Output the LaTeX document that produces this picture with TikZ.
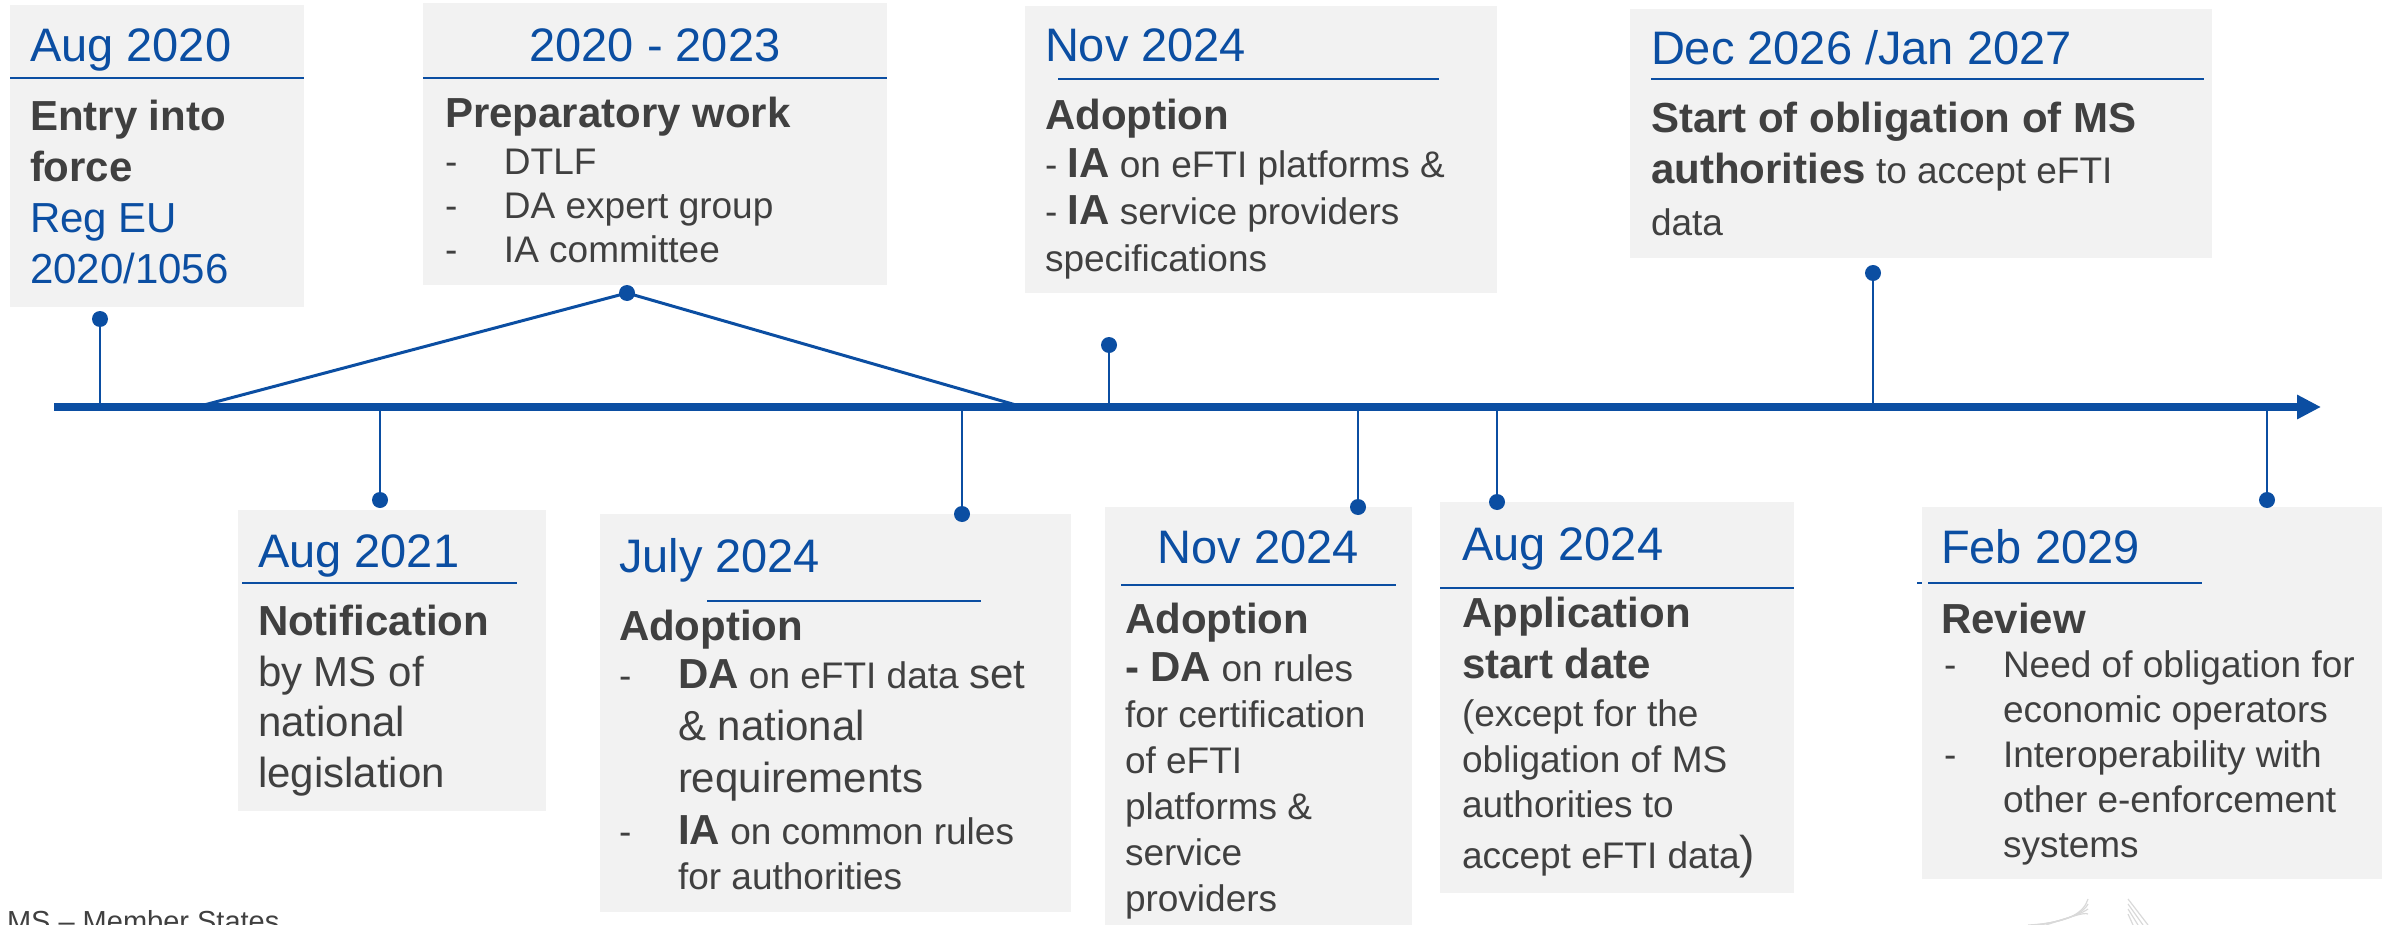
\documentclass[tikz,border=0pt]{standalone}
\usepackage{fontspec}
\setmainfont{Liberation Sans}
\usepackage{xcolor}
\usetikzlibrary{arrows.meta,positioning}

\definecolor{eublue}{HTML}{0B4EA2}
\definecolor{boxgrey}{HTML}{F2F2F2}
\definecolor{txtgrey}{HTML}{404040}

% list dash and indent for the items
\newcommand{\lidash}{\makebox[29.5pt][l]{-}}
\newcommand{\liskip}{\hspace*{29.5pt}}
% larger words and bold terms inside the body text
\newcommand{\lgtext}[1]{{\fontsize{21}{25}\selectfont #1}}
\newcommand{\bterm}[1]{{\fontsize{21}{25}\selectfont\bfseries #1}}

\begin{document}
\begin{tikzpicture}[
    x=0.5pt, y=-0.5pt,% one unit = one pixel of the slide
    every node/.style={inner sep=0pt, outer sep=0pt},
    box/.style={fill=boxgrey, anchor=north west},
    datelabel/.style={anchor=base west, text=eublue,
        font=\fontsize{23.5}{28}\selectfont},
    headline/.style={anchor=north west, align=left, text=txtgrey,
        font=\fontsize{21}{25.5}\selectfont\bfseries},
    bodytext/.style={anchor=north west, align=left, text=txtgrey,
        font=\fontsize{18.5}{22.5}\selectfont},
    rule/.style={eublue, line width=1.2pt},
    stem/.style={eublue, line width=1.2pt},
    pin/.style={circle, fill=eublue, minimum size=8pt},
    timeline/.style={eublue, line width=4pt, -{Triangle[length=12pt,width=11.5pt]}},
    logo/.style={gray!30, line width=0.6pt}
  ]
  \useasboundingbox (0,0) rectangle (2391,925);

  % boxes above the line
  \node[box, minimum width=147pt, minimum height=151pt] (aug20box) at (10,5) {};
  \node[box, minimum width=232pt, minimum height=141pt] (prepbox) at (423,3) {};
  \node[box, minimum width=236pt, minimum height=143.5pt] (nov24abox) at (1025,6) {};
  \node[box, minimum width=291pt, minimum height=124.5pt] (dec26box) at (1630,9) {};
  % boxes below the line
  \node[box, minimum width=154pt, minimum height=150.5pt] (aug21box) at (238,510) {};
  \node[box, minimum width=235.5pt, minimum height=199pt] (jul24box) at (600,514) {};
  \node[box, minimum width=153.5pt, minimum height=209pt] (nov24bbox) at (1105,507) {};
  \node[box, minimum width=177pt, minimum height=195.5pt] (aug24box) at (1440,502) {};
  \node[box, minimum width=230pt, minimum height=186pt] (feb29box) at (1922,507) {};

  % Aug 2020
  \node[datelabel] (aug20date) at (30,62) {Aug 2020};
  \draw[rule] (10,78) -- (304,78);
  \node[headline] (aug20text) at (30,100)
    {Entry into\\force\\\textcolor{eublue}{\mdseries Reg EU}\\\textcolor{eublue}{\mdseries 2020/1056}};

  % 2020 - 2023
  \node[datelabel, anchor=base] (prepdate) at (655,62) {2020 - 2023};
  \draw[rule] (423,78) -- (887,78);
  \node[headline, anchor=base west] (prephead) at (445,128) {Preparatory work};
  \node[bodytext, font=\fontsize{18.5}{22}\selectfont] (preplist) at (445,149)
    {\lidash DTLF\\\lidash DA expert group\\\lidash IA committee};

  % Nov 2024 (IA)
  \node[datelabel] (nov24adate) at (1045,62) {Nov 2024};
  \draw[rule] (1058,79) -- (1439,79);
  \node[headline, anchor=base west] (nov24ahead) at (1045,130) {Adoption};
  \node[bodytext, font=\fontsize{18.5}{23.5}\selectfont] (nov24alist) at (1045,149)
    {- \bterm{IA} on eFTI platforms \&\\- \bterm{IA} service providers\\specifications};

  % Dec 2026 / Jan 2027
  \node[datelabel] (dec26date) at (1651,65) {Dec 2026 /Jan 2027};
  \draw[rule] (1651,79) -- (2204,79);
  \node[bodytext, font=\fontsize{18.5}{25.75}\selectfont] (dec26text) at (1651,102)
    {\bterm{Start of obligation of MS}\\\bterm{authorities} to accept eFTI\\data};

  % Aug 2021
  \node[datelabel] (aug21date) at (258,567) {Aug 2021};
  \draw[rule] (242,583) -- (517,583);
  \node[headline, font=\fontsize{21}{25.3}\selectfont\bfseries] (aug21text) at (258,605)
    {Notification\\{\mdseries by MS of}\\{\mdseries national}\\{\mdseries legislation}};

  % July 2024
  \node[datelabel] (jul24date) at (619,572) {July 2024};
  \draw[rule] (707,601) -- (981,601);
  \node[headline, anchor=base west] (jul24head) at (619,640) {Adoption};
  \node[bodytext, font=\fontsize{18.5}{26}\selectfont] (jul24list) at (619,660)
    {\lidash\bterm{DA} on eFTI data \lgtext{set}\\
     \liskip\lgtext{\& national}\\
     \liskip\lgtext{requirements}\\
     \lidash\bterm{IA} on common rules\\[-3.5pt]
     \liskip for authorities};

  % Nov 2024 (DA)
  \node[datelabel, anchor=base] (nov24bdate) at (1258,563) {Nov 2024};
  \draw[rule] (1121,585) -- (1396,585);
  \node[headline, anchor=base west] (nov24bhead) at (1125,633) {Adoption};
  \node[bodytext, font=\fontsize{18.5}{23}\selectfont] (nov24blist) at (1125,653)
    {\bterm{- DA} on rules\\for certification\\of eFTI\\platforms \&\\service\\providers};

  % Aug 2024
  \node[datelabel] (aug24date) at (1462,560) {Aug 2024};
  \draw[rule] (1440,588) -- (1794,588);
  \node[headline] (aug24head) at (1462,597) {Application\\start date};
  \node[bodytext, font=\fontsize{18.5}{22.75}\selectfont] (aug24text) at (1462,700)
    {(except for the\\obligation of MS\\authorities to\\[2.5pt]accept eFTI data{\fontsize{23}{27}\selectfont)}};

  % Feb 2029
  \node[datelabel] (feb29date) at (1941,563) {Feb 2029};
  \draw[rule, dash pattern=on 2.5pt off 3pt on 200pt] (1917,583) -- (2202,583);
  \node[headline, anchor=base west] (feb29head) at (1941,633) {Review};
  \node[bodytext] (feb29list) at (1944,651)
    {\lidash Need of obligation for\\\liskip economic operators\\
     \lidash Interoperability with\\\liskip other e-enforcement\\\liskip systems};

  % footnote, cut by the lower edge
  \node[anchor=base west, text=txtgrey, font=\fontsize{14.5}{17}\selectfont] (msnote) at (7,931)
    {MS – Member States};

  % logo fragments
  \foreach \k in {0,1,2,3}
    \draw[logo] (2028+\k*6,925) .. controls (2070,923-\k*2) and (2084,912) .. (2088,899+\k*5);
  \foreach \k in {0,1,2,3}
    \draw[logo] (2128,899+\k*5) -- (2148-\k*5,925);

  % the time line
  \coordinate (tlstart) at (54,407);
  \coordinate (tlend) at (2321,407);
  \coordinate (prepleft) at (204,405);
  \coordinate (prepright) at (1016,405);

  \node[pin] (aug20pin) at (100,319) {};
  \node[pin] (preppin) at (627,293) {};
  \node[pin] (nov24apin) at (1109,345) {};
  \node[pin] (dec26pin) at (1873,273) {};
  \node[pin] (aug21pin) at (380,500) {};
  \node[pin] (jul24pin) at (962,514) {};
  \node[pin] (nov24bpin) at (1358,507) {};
  \node[pin] (aug24pin) at (1497,502) {};
  \node[pin] (feb29pin) at (2267,500) {};

  \draw[stem, line width=1.5pt] (prepleft) -- (preppin.center) -- (prepright);
  \foreach \p in {aug20pin,nov24apin,dec26pin,aug21pin,jul24pin,nov24bpin,aug24pin,feb29pin}
    \draw[stem] (\p.center) -- (\p.center |- tlstart);
  \draw[timeline] (tlstart) -- (tlend);
\end{tikzpicture}
\end{document}
